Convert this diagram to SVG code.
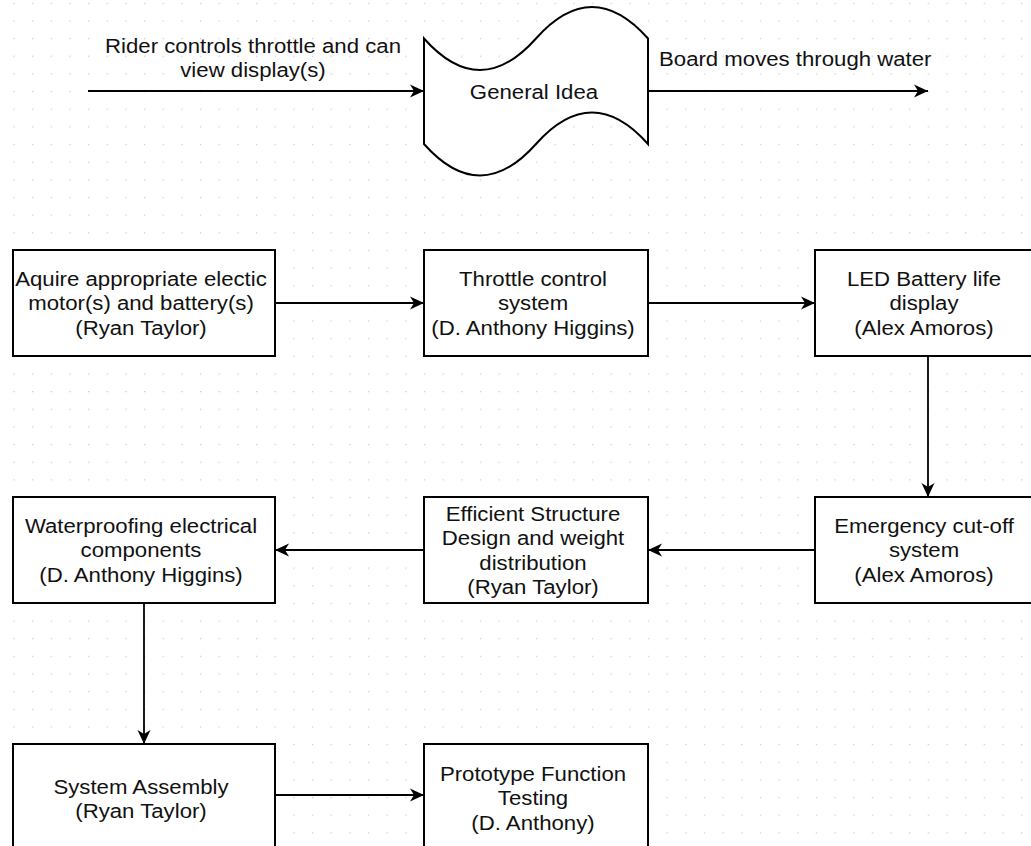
<svg xmlns="http://www.w3.org/2000/svg" width="1031" height="846" viewBox="0 0 1031 846">
<style>
.box{fill:#fff;stroke:#000;stroke-width:2}
.conn{fill:none;stroke:#000;stroke-width:1.8}
.t{font-family:"Liberation Sans",Arial,Helvetica,sans-serif;font-size:21px;fill:#111;text-anchor:middle}
.tl{font-family:"Liberation Sans",Arial,Helvetica,sans-serif;font-size:21px;fill:#111;text-anchor:start}
</style>
<defs>
<pattern id="grid" patternUnits="userSpaceOnUse" x="13.4" y="2.7" width="18.66" height="17.65">
<rect x="0" y="0" width="1.3" height="1.3" fill="#cfcfcf"/>
</pattern>
<marker id="arr" markerUnits="userSpaceOnUse" markerWidth="16" markerHeight="14" refX="14" refY="6.5" orient="auto" overflow="visible">
<path d="M0,0 L14,6.5 L0,13 L4,6.5 Z" fill="#000"/>
</marker>
</defs>
<rect width="1031" height="846" fill="#fff"/>
<rect width="1031" height="846" fill="url(#grid)"/>

<g id="connectors">
<line class="conn" x1="88" y1="91" x2="424" y2="91" marker-end="url(#arr)"/>
<line class="conn" x1="648" y1="91" x2="928" y2="91" marker-end="url(#arr)"/>
<line class="conn" x1="275" y1="303" x2="424" y2="303" marker-end="url(#arr)"/>
<line class="conn" x1="648" y1="303" x2="815" y2="303" marker-end="url(#arr)"/>
<line class="conn" x1="928" y1="356" x2="928" y2="497" marker-end="url(#arr)"/>
<line class="conn" x1="815" y1="550" x2="648" y2="550" marker-end="url(#arr)"/>
<line class="conn" x1="424" y1="550" x2="275" y2="550" marker-end="url(#arr)"/>
<line class="conn" x1="144" y1="603" x2="144" y2="744" marker-end="url(#arr)"/>
<line class="conn" x1="275" y1="795" x2="424" y2="795" marker-end="url(#arr)"/>
<text class="t" transform="translate(253,53) scale(1.057,1)"><tspan x="0" y="0">Rider controls throttle and can</tspan><tspan x="0" y="24">view display(s)</tspan></text>
<text class="tl" transform="translate(659,66) scale(1.057,1)">Board moves through water</text>
</g>

<g id="general-idea">
<path class="box" d="M424,38.5 Q480,101.5 536,38.5 Q592,-24.5 648,38.5 L648,144 Q592,81 536,144 Q480,207 424,144 Z"/>
<text class="t" transform="translate(534,98.5) scale(1.057,1)">General Idea</text>
</g>

<g id="acquire">
<rect class="box" x="13" y="250" width="262" height="106"/>
<text class="t" transform="translate(141,286) scale(1.057,1)"><tspan x="0" y="0">Aquire appropriate electic</tspan><tspan x="0" y="24.5">motor(s) and battery(s)</tspan><tspan x="0" y="49">(Ryan Taylor)</tspan></text>
</g>

<g id="throttle">
<rect class="box" x="424" y="250" width="224" height="106"/>
<text class="t" transform="translate(533,286) scale(1.057,1)"><tspan x="0" y="0">Throttle control</tspan><tspan x="0" y="24.5">system</tspan><tspan x="0" y="49">(D. Anthony Higgins)</tspan></text>
</g>

<g id="led">
<rect class="box" x="815" y="250" width="226" height="106"/>
<text class="t" transform="translate(924,286) scale(1.057,1)"><tspan x="0" y="0">LED Battery life</tspan><tspan x="0" y="24.5">display</tspan><tspan x="0" y="49">(Alex Amoros)</tspan></text>
</g>

<g id="emergency">
<rect class="box" x="815" y="497" width="226" height="106"/>
<text class="t" transform="translate(924,533) scale(1.057,1)"><tspan x="0" y="0">Emergency cut-off</tspan><tspan x="0" y="24.5">system</tspan><tspan x="0" y="49">(Alex Amoros)</tspan></text>
</g>

<g id="structure">
<rect class="box" x="424" y="497" width="224" height="106"/>
<text class="t" transform="translate(533,520.8) scale(1.057,1)"><tspan x="0" y="0">Efficient Structure</tspan><tspan x="0" y="24.5">Design and weight</tspan><tspan x="0" y="49">distribution</tspan><tspan x="0" y="73.5">(Ryan Taylor)</tspan></text>
</g>

<g id="waterproofing">
<rect class="box" x="13" y="497" width="262" height="106"/>
<text class="t" transform="translate(141,533) scale(1.057,1)"><tspan x="0" y="0">Waterproofing electrical</tspan><tspan x="0" y="24.5">components</tspan><tspan x="0" y="49">(D. Anthony Higgins)</tspan></text>
</g>

<g id="assembly">
<rect class="box" x="13" y="744" width="262" height="110"/>
<text class="t" transform="translate(141,793.5) scale(1.057,1)"><tspan x="0" y="0">System Assembly</tspan><tspan x="0" y="24.5">(Ryan Taylor)</tspan></text>
</g>

<g id="prototype">
<rect class="box" x="424" y="744" width="224" height="110"/>
<text class="t" transform="translate(533,781) scale(1.057,1)"><tspan x="0" y="0">Prototype Function</tspan><tspan x="0" y="24.5">Testing</tspan><tspan x="0" y="49">(D. Anthony)</tspan></text>
</g>
</svg>
